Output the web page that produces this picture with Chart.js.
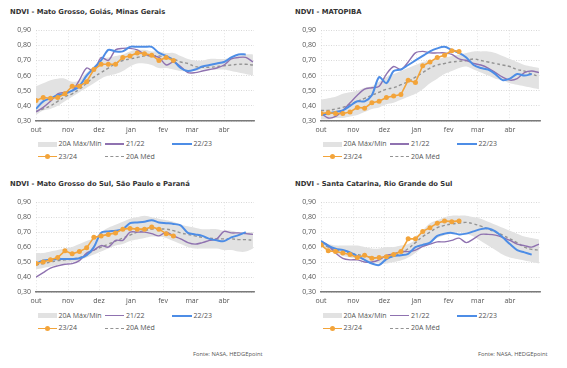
<!DOCTYPE html>
<html>
<head>
<meta charset="utf-8">
<script src="https://cdn.jsdelivr.net/npm/chart.js@4"></script>
<style>
  body { margin: 0; width: 567px; height: 368px; background: #fff; position: relative; overflow: hidden; font-family: 'Open Sans', sans-serif; color: #555; }
  canvas { position: absolute; }
  .title { position: absolute; font-family: 'DejaVu Sans', sans-serif; font-weight: bold; font-size: 6.8px; color: #333; white-space: nowrap; line-height: 1; }
  .leg { position: absolute; font-size: 7px; color: #555; white-space: nowrap; line-height: 1; }
  .mark { position: absolute; }
  .src { position: absolute; font-size: 5.8px; color: #555; white-space: nowrap; line-height: 1; }
</style>
</head>
<body>
<script>
// Axis labels
const monthLabels = ['out', 'nov', 'dez', 'jan', 'fev', 'mar', 'abr'];
const monthStartDays = [0, 31, 61, 92, 123, 151, 182];
const yTickValues = [0.3, 0.4, 0.5, 0.6, 0.7, 0.8, 0.9];
const seriesNames = ['20A Máx/Mín', '21/22', '22/23', '23/24', '20A Méd'];
const titles = [
  'NDVI - Mato Grosso, Goiás, Minas Gerais',
  'NDVI - MATOPIBA',
  'NDVI - Mato Grosso do Sul, São Paulo e Paraná',
  'NDVI - Santa Catarina, Rio Grande do Sul'
];
const sourceText = 'Fonte: NASA, HEDGEpoint';

// Weekly readings from 1 Oct
// Mato Grosso, Goiás, Minas Gerais
const mgMax  = [0.53,0.55,0.57,0.58,0.58,0.56,0.57,0.62,0.66,0.71,0.72,0.73,0.74,0.76,0.77,0.77,0.76,0.76,0.75,0.75,0.73,0.71,0.70,0.70,0.71,0.71,0.71,0.72,0.73,0.74,0.74];
const mgMin  = [0.34,0.37,0.38,0.40,0.43,0.46,0.49,0.52,0.55,0.58,0.60,0.61,0.63,0.66,0.68,0.68,0.67,0.65,0.65,0.64,0.63,0.63,0.63,0.64,0.64,0.64,0.64,0.63,0.62,0.61,0.60];
const mg2122 = [0.36,0.39,0.43,0.48,0.49,0.50,0.57,0.65,0.63,0.72,0.70,0.77,0.78,0.78,0.77,0.74,0.73,0.72,0.67,0.69,0.66,0.62,0.62,0.63,0.64,0.65,0.67,0.71,0.72,0.72,0.69];
const mg2223 = [0.38,0.43,0.45,0.47,0.48,0.50,0.53,0.60,0.65,0.70,0.77,0.76,0.76,0.79,0.79,0.79,0.79,0.75,0.73,0.70,0.65,0.63,0.64,0.66,0.67,0.68,0.69,0.72,0.74,0.74];
const mg2324 = [0.435,0.455,0.45,0.455,0.48,0.53,0.53,0.56,0.64,0.675,0.675,0.675,0.72,0.73,0.75,0.745,0.735,0.70,0.72,0.70];
const mgAvg  = [0.365,0.38,0.40,0.43,0.46,0.48,0.51,0.55,0.59,0.62,0.65,0.68,0.70,0.71,0.72,0.73,0.73,0.73,0.72,0.71,0.69,0.68,0.66,0.655,0.655,0.66,0.665,0.67,0.675,0.675,0.67];

// MATOPIBA
const mtMax  = [0.44,0.45,0.46,0.48,0.49,0.50,0.52,0.53,0.56,0.59,0.61,0.63,0.65,0.67,0.69,0.70,0.71,0.72,0.73,0.74,0.75,0.76,0.76,0.76,0.75,0.73,0.71,0.69,0.67,0.66,0.65];
const mtMin  = [0.31,0.31,0.32,0.32,0.33,0.34,0.36,0.38,0.39,0.41,0.42,0.44,0.46,0.48,0.51,0.55,0.58,0.61,0.63,0.65,0.66,0.64,0.62,0.60,0.58,0.57,0.55,0.54,0.53,0.52,0.51];
const mt2122 = [0.35,0.32,0.33,0.37,0.42,0.47,0.51,0.52,0.53,0.61,0.66,0.64,0.69,0.75,0.76,0.75,0.75,0.75,0.74,0.71,0.70,0.68,0.67,0.65,0.62,0.59,0.57,0.58,0.62,0.63,0.62];
const mt2223 = [0.34,0.35,0.36,0.37,0.40,0.43,0.43,0.47,0.59,0.55,0.63,0.64,0.67,0.70,0.73,0.76,0.78,0.79,0.77,0.75,0.72,0.67,0.65,0.64,0.61,0.57,0.58,0.61,0.60,0.61];
const mt2324 = [0.35,0.355,0.35,0.35,0.36,0.39,0.385,0.42,0.43,0.455,0.465,0.475,0.57,0.555,0.665,0.69,0.72,0.735,0.765,0.76];
const mtAvg  = [0.37,0.37,0.38,0.39,0.41,0.43,0.45,0.47,0.49,0.51,0.52,0.54,0.56,0.59,0.62,0.65,0.67,0.68,0.69,0.695,0.70,0.71,0.70,0.69,0.68,0.67,0.66,0.64,0.63,0.61,0.595];

// Mato Grosso do Sul, São Paulo e Paraná
const msMax  = [0.56,0.56,0.57,0.58,0.59,0.60,0.62,0.64,0.66,0.70,0.73,0.75,0.77,0.79,0.80,0.81,0.80,0.79,0.78,0.77,0.75,0.74,0.73,0.72,0.72,0.72,0.71,0.71,0.70,0.70,0.70];
const msMin  = [0.45,0.46,0.47,0.48,0.49,0.50,0.51,0.53,0.55,0.57,0.59,0.61,0.62,0.64,0.65,0.66,0.67,0.67,0.66,0.64,0.62,0.60,0.59,0.59,0.59,0.59,0.58,0.58,0.57,0.57,0.59];
const ms2122 = [0.40,0.43,0.46,0.475,0.485,0.49,0.51,0.56,0.58,0.61,0.60,0.645,0.645,0.70,0.70,0.70,0.69,0.675,0.70,0.675,0.655,0.63,0.62,0.63,0.645,0.655,0.705,0.695,0.695,0.69,0.685];
const ms2223 = [0.49,0.51,0.515,0.52,0.52,0.52,0.525,0.545,0.60,0.695,0.705,0.71,0.72,0.76,0.765,0.77,0.78,0.765,0.76,0.755,0.745,0.695,0.685,0.675,0.655,0.645,0.64,0.665,0.68,0.70];
const ms2324 = [0.49,0.50,0.515,0.53,0.575,0.555,0.57,0.595,0.665,0.675,0.685,0.695,0.72,0.725,0.72,0.72,0.735,0.72,0.69,0.675];
const msAvg  = [0.48,0.49,0.50,0.51,0.515,0.52,0.53,0.55,0.58,0.60,0.62,0.64,0.66,0.68,0.70,0.71,0.72,0.72,0.72,0.71,0.695,0.685,0.675,0.665,0.66,0.655,0.655,0.655,0.65,0.65,0.645];

// Santa Catarina, Rio Grande do Sul
const scMax  = [0.63,0.62,0.61,0.61,0.61,0.61,0.60,0.59,0.59,0.60,0.60,0.61,0.62,0.65,0.71,0.76,0.78,0.80,0.81,0.81,0.81,0.80,0.79,0.77,0.75,0.73,0.71,0.69,0.67,0.66,0.65];
const scMin  = [0.60,0.58,0.56,0.54,0.53,0.52,0.51,0.50,0.49,0.49,0.50,0.51,0.53,0.56,0.60,0.63,0.66,0.68,0.69,0.70,0.69,0.67,0.64,0.61,0.58,0.55,0.53,0.52,0.51,0.50,0.49];
const sc2122 = [0.64,0.61,0.56,0.525,0.515,0.515,0.50,0.50,0.515,0.545,0.555,0.57,0.57,0.58,0.605,0.62,0.635,0.635,0.645,0.66,0.63,0.655,0.685,0.685,0.68,0.665,0.645,0.62,0.61,0.60,0.62];
const sc2223 = [0.64,0.61,0.59,0.58,0.565,0.54,0.515,0.49,0.48,0.52,0.54,0.545,0.555,0.60,0.615,0.63,0.675,0.69,0.695,0.685,0.69,0.705,0.72,0.725,0.705,0.665,0.62,0.58,0.565,0.55];
const sc2324 = [0.615,0.575,0.57,0.56,0.55,0.53,0.545,0.525,0.53,0.535,0.55,0.57,0.655,0.655,0.705,0.73,0.76,0.775,0.77,0.775];
const scAvg  = [0.62,0.60,0.58,0.57,0.56,0.55,0.54,0.53,0.53,0.53,0.54,0.56,0.59,0.63,0.67,0.70,0.73,0.745,0.755,0.76,0.765,0.755,0.74,0.72,0.70,0.68,0.655,0.63,0.60,0.585,0.58];

const colors = { band: '#e2e2e2', s2122: '#8f72b0', s2223: '#4d8de6', s2324: '#f3a43a', avg: '#939393' };
const fontFamily = "'Open Sans', sans-serif";

const panels = [
  { title: titles[0], x: 0,   plotLeft: 36,  plotRight: 253.5, plotTop: 27.2,  plotBottom: 120.5, hi: mgMax, lo: mgMin, a: mg2122, b: mg2223, c: mg2324, avg: mgAvg },
  { title: titles[1], x: 285, plotLeft: 321, plotRight: 540,   plotTop: 27.2,  plotBottom: 120.5, hi: mtMax, lo: mtMin, a: mt2122, b: mt2223, c: mt2324, avg: mtAvg },
  { title: titles[2], x: 0,   plotLeft: 36,  plotRight: 254,   plotTop: 199,   plotBottom: 292.3, hi: msMax, lo: msMin, a: ms2122, b: ms2223, c: ms2324, avg: msAvg, src: true },
  { title: titles[3], x: 285, plotLeft: 320.5, plotRight: 540, plotTop: 199,   plotBottom: 292.3, hi: scMax, lo: scMin, a: sc2122, b: sc2223, c: sc2324, avg: scAvg, src: true }
];

// weekly values -> points on a day axis
function weekly(values) {
  return values.map((v, i) => ({ x: i * 7, y: v }));
}

function addText(cls, text, left, top) {
  const el = document.createElement('div');
  el.className = cls;
  el.textContent = text;
  el.style.left = left + 'px';
  el.style.top = top + 'px';
  document.body.appendChild(el);
  return el;
}

function addMark(left, top, w, h, css) {
  const el = document.createElement('div');
  el.className = 'mark';
  el.style.left = left + 'px';
  el.style.top = top + 'px';
  el.style.width = w + 'px';
  el.style.height = h + 'px';
  Object.assign(el.style, css);
  document.body.appendChild(el);
}

function drawLegend(p) {
  const r1 = p.plotBottom + 23.5, r2 = p.plotBottom + 36;
  const ox = p.x;
  // row 1
  addMark(ox + 37.5, r1 - 2.5, 19, 5, { background: colors.band });
  addText('leg', seriesNames[0], ox + 58.5, r1 - 4);
  addMark(ox + 105, r1 - 0.7, 19, 1.4, { background: colors.s2122 });
  addText('leg', seriesNames[1], ox + 126, r1 - 4);
  addMark(ox + 172, r1 - 1, 20, 2, { background: colors.s2223 });
  addText('leg', seriesNames[2], ox + 193.5, r1 - 4);
  // row 2
  addMark(ox + 37.5, r2 - 0.8, 19, 1.6, { background: colors.s2324 });
  addMark(ox + 44.5, r2 - 2.5, 5, 5, { background: colors.s2324, borderRadius: '50%' });
  addText('leg', seriesNames[3], ox + 58.5, r2 - 4);
  addMark(ox + 105, r2 - 0.7, 19, 0, { borderTop: '1.4px dashed ' + colors.avg });
  addText('leg', seriesNames[4], ox + 126, r2 - 4);
}

panels.forEach(p => {
  const padL = 34, padR = 8, padT = 6, padB = 18;
  const left = Math.round(p.plotLeft) - padL;
  const top = Math.round(p.plotTop) - padT;
  const w = Math.round(p.plotRight) - Math.round(p.plotLeft) + padL + padR;
  const h = Math.round(p.plotBottom) - Math.round(p.plotTop) + padT + padB;

  const canvas = document.createElement('canvas');
  canvas.width = w;
  canvas.height = h;
  canvas.style.left = left + 'px';
  canvas.style.top = top + 'px';
  document.body.appendChild(canvas);

  addText('title', p.title, p.x + 10, p.plotTop - 18.5);
  drawLegend(p);
  if (p.src) addText('src', sourceText, p.x + 193, p.plotBottom + 60);

  new Chart(canvas, {
    type: 'line',
    data: {
      datasets: [
        { label: 'max', data: weekly(p.hi), borderWidth: 0, pointRadius: 0, fill: '+1', backgroundColor: colors.band, tension: 0.4, order: 5 },
        { label: 'min', data: weekly(p.lo), borderWidth: 0, pointRadius: 0, fill: false, tension: 0.4, order: 5 },
        { label: seriesNames[4], data: weekly(p.avg), borderColor: colors.avg, borderDash: [3, 2.5], borderWidth: 1.4, pointRadius: 0, tension: 0.4, order: 4 },
        { label: seriesNames[1], data: weekly(p.a), borderColor: colors.s2122, borderWidth: 1.4, pointRadius: 0, tension: 0.3, order: 3 },
        { label: seriesNames[2], data: weekly(p.b), borderColor: colors.s2223, borderWidth: 2, pointRadius: 0, tension: 0.3, order: 2 },
        { label: seriesNames[3], data: weekly(p.c), borderColor: colors.s2324, borderWidth: 1.6, pointRadius: 2.5, pointBorderWidth: 0, pointBackgroundColor: colors.s2324, tension: 0, order: 1 }
      ]
    },
    options: {
      responsive: false,
      animation: false,
      events: [],
      layout: { padding: { top: padT, right: padR, left: 0, bottom: 0 } },
      plugins: { legend: { display: false }, tooltip: { enabled: false } },
      scales: {
        x: {
          type: 'linear', min: 0, max: 211,
          afterBuildTicks: s => { s.ticks = monthStartDays.map(v => ({ value: v })); },
          afterFit: s => { s.height = padB; },
          ticks: {
            autoSkip: false, maxRotation: 0, padding: 5, color: '#555',
            font: { family: fontFamily, size: 7 },
            callback: v => monthLabels[monthStartDays.indexOf(v)]
          },
          grid: { color: 'rgba(0,0,0,0.14)', lineWidth: 0.8, drawTicks: false },
          border: { color: '#7a7a7a', width: 1.5, dash: [1, 2] }
        },
        y: {
          min: 0.3, max: 0.9,
          afterBuildTicks: s => { s.ticks = yTickValues.map(v => ({ value: v })); },
          afterFit: s => { s.width = padL; },
          ticks: {
            padding: 5, color: '#555',
            font: { family: fontFamily, size: 7 },
            callback: v => v.toFixed(2).replace('.', ',')
          },
          grid: { color: '#cfcfcf', lineWidth: 0.8, drawTicks: false },
          border: { display: false, dash: [1, 1.5] }
        }
      }
    }
  });
});
</script>
</body>
</html>
